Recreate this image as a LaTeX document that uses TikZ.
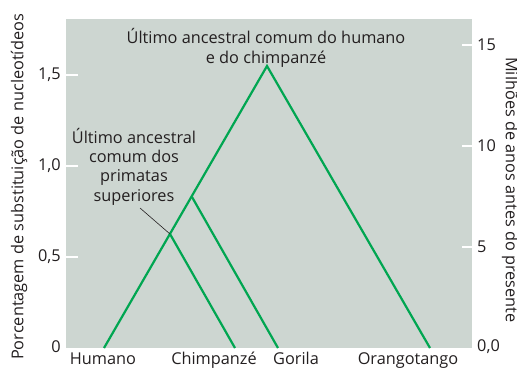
\documentclass[tikz,border=0pt]{standalone}
\usepackage{fontspec}
\setmainfont{Open Sans}
\usetikzlibrary{positioning}
\definecolor{panelgray}{HTML}{CDD6D1}
\definecolor{treegreen}{HTML}{00A651}
\definecolor{inkgray}{HTML}{231F20}

\begin{document}
\begin{tikzpicture}[
  x=1pt,y=-1pt,
  branch/.style={treegreen,line width=2.2pt,line join=miter},
  txt/.style={text=inkgray,font=\fontsize{16.3}{19.3}\selectfont,inner sep=0pt},
  tiplabel/.style={txt,anchor=base},
  ticklabel/.style={txt},
  tickmark/.style={white,line width=1.3pt}
]
\useasboundingbox (0,0) rectangle (517,367);
% panel
\fill[panelgray] (66,19) rectangle (472,348);
% ticks of both axes
\foreach \yy in {75,166,257}
  \draw[tickmark] (66,\yy) -- (78,\yy);
\foreach \yy/\lab in {75/{1,5},166/{1,0},257/{0,5},347/0}
  \node[ticklabel,anchor=east] at (61,\yy) {\lab};
\foreach \yy in {45,146,247}
  \draw[tickmark] (462,\yy) -- (472,\yy);
\foreach \yy/\lab in {45/15,146/10,247/5,347/{0,0}}
  \node[ticklabel,anchor=west] at (477,\yy) {\lab};
% axis titles
\node[txt,rotate=90] (ylab) at (19,187) {Porcentagem de substituição de nucleotídeos};
\node[txt,rotate=-90] (yrlab) at (510,190) {Milhões de anos antes do presente};
% tree
\coordinate (hBase) at (104,348);
\coordinate (cBase) at (235,348);
\coordinate (gBase) at (278,348);
\coordinate (oBase) at (430,348);
\coordinate (apex) at (267,66);
\coordinate (jGorila) at (192,197);
\coordinate (jChimp) at (170,234);
\draw[branch] (hBase) -- (apex) -- (oBase);
\draw[branch] (jGorila) -- (gBase);
\draw[branch] (jChimp) -- (cBase);
% tip names
\node[tiplabel] (humano) at (103,364) {Humano};
\node[tiplabel] (chimp) at (214,364) {Chimpanzé};
\node[tiplabel] (gorila) at (296,364) {Gorila};
\node[tiplabel] (orang) at (408,364) {Orangotango};
% ancestors
\node[txt,align=center,anchor=base] (ancHC) at (266,63) {Último ancestral comum do humano\\e do chimpanzé};
\node[txt,align=center,anchor=base] (ancPS) at (134,201) {Último ancestral\\comum dos\\primatas\\superiores};
\draw[inkgray,line width=0.6pt] (140,208) -- (jChimp);
\end{tikzpicture}
\end{document}
